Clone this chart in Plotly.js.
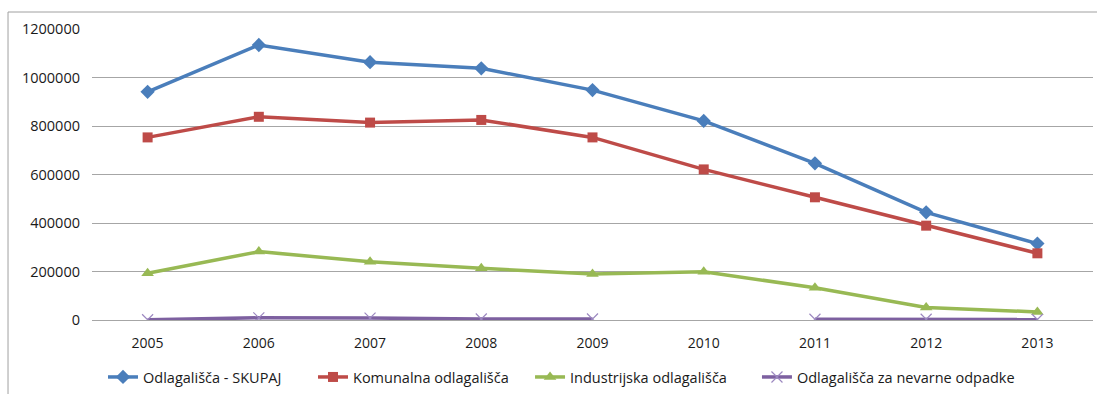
<!DOCTYPE html>
<html>
<head>
<meta charset="utf-8">
<script src="https://cdn.plot.ly/plotly-3.0.1.min.js"></script>
<style>
  html, body { margin: 0; padding: 0; background: #ffffff; }
  #chart { width: 1097px; height: 394px; }
</style>
</head>
<body>
<div id="chart"></div>
<script>
// Years on the category axis
const years = ['2005', '2006', '2007', '2008', '2009', '2010', '2011', '2012', '2013'];

// Landfill quantities per year
const skupaj       = [941000, 1134000, 1063000, 1038000, 948000, 821000, 646000, 444000, 315000];
const komunalna    = [753000, 838000, 814000, 825000, 753000, 621000, 506000, 389000, 275000];
const industrijska = [193000, 282000, 240000, 213000, 190000, 199000, 133000, 52000, 33000];
const nevarne      = [1000, 9000, 8000, 4000, 4000, null, 3000, 3000, 2000];

// Series names shown in the legend
const seriesNames = [
  'Odlagališča - SKUPAJ',
  'Komunalna odlagališča',
  'Industrijska odlagališča',
  'Odlagališča za nevarne odpadke'
];

const FONT = 'Open Sans, Liberation Sans, sans-serif';

const traces = [
  {
    x: years, y: skupaj, name: seriesNames[0], type: 'scatter', mode: 'lines+markers',
    legend: 'legend',
    line: { color: '#4A7EBB', width: 3.5 },
    marker: { symbol: 'diamond', size: 11, color: '#4A7EBB' }
  },
  {
    x: years, y: komunalna, name: seriesNames[1], type: 'scatter', mode: 'lines+markers',
    legend: 'legend2',
    line: { color: '#BE4B48', width: 3.5 },
    marker: { symbol: 'square', size: 10, color: '#BE4B48' }
  },
  {
    x: years, y: industrijska, name: seriesNames[2], type: 'scatter', mode: 'lines+markers',
    legend: 'legend3',
    line: { color: '#98B954', width: 3.5 },
    marker: { symbol: 'triangle-up', size: 11, color: '#98B954' }
  },
  {
    x: years, y: nevarne, name: seriesNames[3], type: 'scatter', mode: 'lines+markers',
    legend: 'legend4',
    connectgaps: false,
    line: { color: '#7D60A0', width: 3.5 },
    marker: { symbol: 'x-thin-open', size: 11, color: '#9C88C0', line: { color: '#9C88C0', width: 1.2 } }
  }
];

// One legend box per series, laid out in a row under the axis
function legendAt(x) {
  return {
    orientation: 'h',
    x: x, xanchor: 'left',
    y: -0.196, yanchor: 'middle',
    font: { family: FONT, size: 14.5, color: '#1a1a1a' },
    itemwidth: 30,
    bgcolor: 'rgba(0,0,0,0)'
  };
}

const layout = {
  width: 1097,
  height: 394,
  margin: { l: 92, r: 4, t: 29, b: 74, autoexpand: false },
  paper_bgcolor: '#ffffff',
  plot_bgcolor: '#ffffff',
  font: { family: FONT, size: 14, color: '#1a1a1a' },
  showlegend: true,
  legend: legendAt(0.011),
  legend2: legendAt(0.2208),
  legend3: legendAt(0.4376),
  legend4: legendAt(0.6643),
  xaxis: {
    type: 'category',
    range: [-0.5, 8.5],
    showgrid: false,
    showline: false,
    zeroline: false,
    ticks: '',
    ticklabelstandoff: 13,
    tickfont: { family: FONT, size: 14, color: '#1a1a1a' },
    fixedrange: true
  },
  yaxis: {
    range: [0, 1200000],
    dtick: 200000,
    tick0: 0,
    tickformat: 'd',
    showgrid: true,
    gridcolor: '#A6A6A6',
    gridwidth: 1,
    zeroline: true,
    zerolinecolor: '#A6A6A6',
    zerolinewidth: 1,
    showline: false,
    ticks: '',
    ticklabelstandoff: 11,
    tickfont: { family: FONT, size: 14.5, color: '#1a1a1a' },
    fixedrange: true
  },
  shapes: [
    {
      type: 'rect', xref: 'paper', yref: 'paper',
      x0: -0.0839, x1: 1.02, y0: -0.3, y1: 1.0584,
      line: { color: '#A0A0A0', width: 1 },
      fillcolor: 'rgba(0,0,0,0)',
      layer: 'below'
    }
  ]
};

Plotly.newPlot('chart', traces, layout, { displayModeBar: false, staticPlot: true });
</script>
</body>
</html>
